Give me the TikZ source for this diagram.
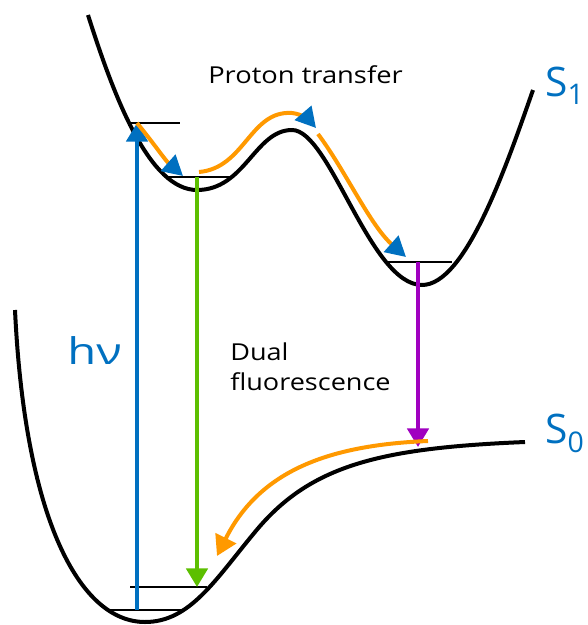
\documentclass[tikz,border=0pt]{standalone}
\usepackage{fontspec}
\setmainfont{Open Sans}
\usepackage{tikz}
\usetikzlibrary{arrows.meta}
\definecolor{photoblue}{HTML}{0070C0}
\definecolor{fluogreen}{HTML}{5CBF00}
\definecolor{fluopurple}{HTML}{A000C0}
\definecolor{transorange}{HTML}{FF9900}

\begin{document}
\begin{tikzpicture}[
  x=0.75pt, y=-0.75pt,
  surface/.style={line width=3pt},
  level/.style={line width=1.5pt},
  photon/.style={line width=3pt, -{Triangle[length=14pt, width=16pt]}},
  transfer/.style={line width=3pt, transorange, -{Triangle[length=15pt, width=16pt, color=photoblue]}},
  relax/.style={line width=3pt, transorange, -{Triangle[length=15pt, width=17pt]}},
  label/.style={inner sep=0pt, anchor=base west}
]
\useasboundingbox (0,0) rectangle (587,625);
% potential energy surfaces
\draw[surface] (88,15) .. controls (115,100) and (150,190) .. (197,190)
  .. controls (245,190) and (255,130) .. (292,130)
  .. controls (330,130) and (370,285) .. (422,285)
  .. controls (465,285) and (505,170) .. (533,90);
\draw[surface] (15,310) .. controls (25,520) and (80,622) .. (145,622)
  .. controls (190,622) and (215,580) .. (255,532)
  .. controls (310,465) and (380,448) .. (525,442);
% vibrational levels
\coordinate (franck) at (137,123);
\coordinate (enol) at (197,177);
\coordinate (keto) at (418,262);
\coordinate (ground) at (197,587);
\coordinate (bottom) at (137,610);
\coordinate (ketoground) at (418,447);
\draw[level] (130,123) -- (180,123);
\draw[level] (165,177) -- (233,177);
\draw[level] (387,262) -- (452,262);
\draw[level] (130,587) -- (207,587);
\draw[level] (108,610) -- (182,610);
% transitions
\draw[photon, photoblue] (bottom) -- (franck);
\draw[photon, fluogreen] (enol) -- (ground);
\draw[photon, fluopurple] (keto) -- (ketoground);
\draw[transfer] (franck) .. controls (155,145) and (165,160) .. (183,176);
\draw[transfer] (199,172) .. controls (245,168) and (250,110) .. (292,113)
  .. controls (302,114) and (310,121) .. (316,128);
\draw[transfer] (318,134) .. controls (345,170) and (370,225) .. (406,257);
\draw[relax] (428,441) .. controls (330,445) and (260,470) .. (217,556);
% labels
\node[label, xscale=1.17, font=\fontsize{17.5}{22.5}\selectfont] (proton) at (208,83) {Proton transfer};
\node[label, xscale=1.28, font=\fontsize{27.6}{32}\selectfont, text=photoblue] (hnu) at (67,364) {hν};
\node[label, xscale=1.16, font=\fontsize{17.5}{22.5}\selectfont, align=left] (dual) at (230,390) {Dual\\fluorescence};
\node[label, font=\fontsize{30.5}{36}\selectfont, text=photoblue] (sone) at (545,96) {S\textsubscript{1}};
\node[label, font=\fontsize{30.5}{36}\selectfont, text=photoblue] (szero) at (545,443) {S\textsubscript{0}};
\end{tikzpicture}
\end{document}
